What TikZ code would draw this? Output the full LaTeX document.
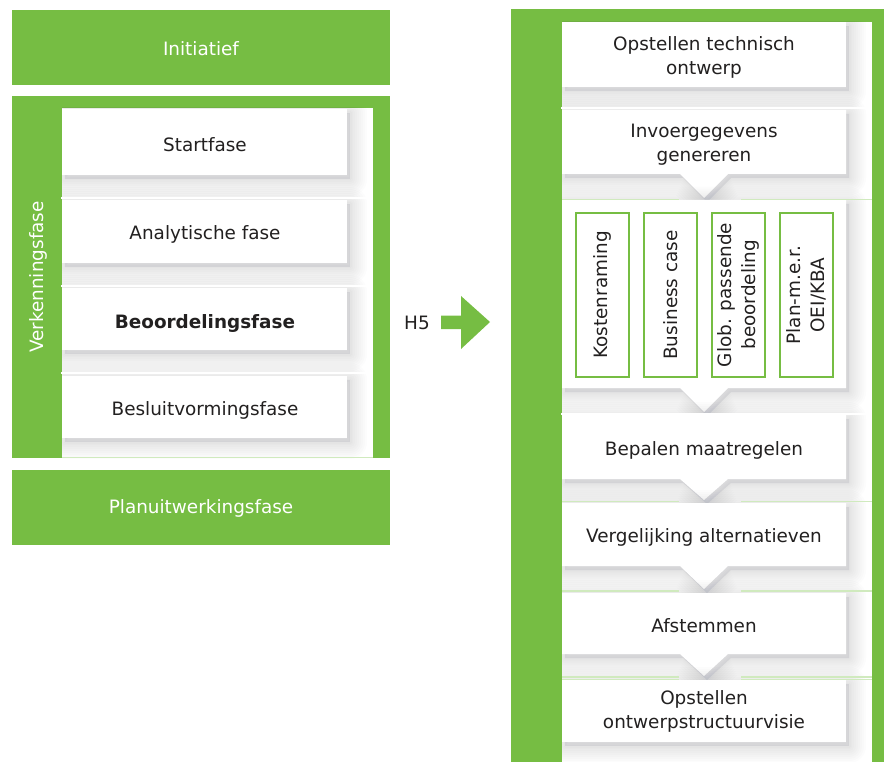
\documentclass[tikz,border=0pt]{standalone}
\usepackage{fontspec}
\setmainfont{DejaVu Sans}
\definecolor{leaf}{RGB}{118,189,67}
\definecolor{sepgreen}{RGB}{208,234,190}
\definecolor{ink}{RGB}{34,32,32}
\definecolor{shade}{RGB}{70,75,90}
\tikzset{
  label/.style={text=ink, align=center, inner sep=0pt,
      font=\fontsize{18.4}{24}\selectfont},
  greenlabel/.style={text=white, align=center, inner sep=0pt,
      font=\fontsize{18.4}{24}\selectfont},
  vbox/.style={draw=leaf, line width=1.2pt, fill=white, rotate=90,
      minimum width=164pt, minimum height=53pt, inner sep=2pt, text=ink,
      align=center, font=\fontsize{18.4}{24}\selectfont},
  whitesep/.style={draw=white, line width=1.2pt},
  greensep/.style={draw=sepgreen, line width=1.2pt}
}
% white card with a soft drop shadow; #1 is the outline of the card
\newcommand\softcard[1]{%
  \path[fill=shade, fill opacity=0.09, xshift=3pt, yshift=-4pt] #1;
  \foreach \w in {34,30,26,22,18,14,10,6,3}{%
    \path[draw=shade, draw opacity=0.014, line width=\w pt, line join=round,
          xshift=3pt, yshift=-4pt] #1;}%
  \path[fill=white] #1;}
\begin{document}
\begin{tikzpicture}[x=1pt, y=-1pt]
\useasboundingbox (0,0) rectangle (884,762);

% ---------- left column ----------
\fill[leaf] (12,10) rectangle (390,85);
\node[greenlabel] (init) at (201,48.5) {Initiatief};

\fill[leaf] (12,96) rectangle (390,458);
\fill[white] (62,108) rectangle (373,458);
\node[greenlabel, rotate=90] (verk) at (38,277) {Verkenningsfase};

\begin{scope}
  \clip (62,108) rectangle (373,458);
  \softcard{(62,109) rectangle (347,175)}
  \softcard{(62,200) rectangle (347,263)}
  \softcard{(62,288) rectangle (347,350)}
  \softcard{(62,376) rectangle (347,438)}
\end{scope}
\draw[whitesep] (61,198) -- (373,198);
\draw[whitesep] (61,286) -- (373,286);
\draw[whitesep] (61,373) -- (373,373);
\draw[sepgreen, line width=0.8pt] (62,457.6) -- (373,457.6);

\node[label] (start) at (205,145) {Startfase};
\node[label] (anal) at (205,234) {Analytische fase};
\node[label, font=\fontsize{18.4}{24}\selectfont\bfseries] (beoor) at (205,323) {Beoordelingsfase};
\node[label] (besl) at (205,410) {Besluitvormingsfase};

\fill[leaf] (12,470) rectangle (390,545);
\node[greenlabel] (plan) at (201,508.5) {Planuitwerkingsfase};

% ---------- H5 arrow ----------
\node[label] (h5) at (417,323) {H5};
\fill[leaf] (441,315.5) -- (461,315.5) -- (461,296) -- (490,322)
  -- (461,349) -- (461,329) -- (441,329) -- cycle;

% ---------- right column ----------
\fill[leaf] (511,9) rectangle (884,762);
\fill[white] (562,22) rectangle (872,762);

% cards with their downward notches
\begin{scope}
  \clip (562,22) rectangle (872,762);
  \softcard{(562,22) rectangle (846,87)}
  \softcard{(562,110) -- (846,110) -- (846,174) -- (728,174) -- (704,198)
    -- (680,174) -- (562,174) -- cycle}
  \softcard{(562,200) -- (846,200) -- (846,388) -- (728,388) -- (704,412)
    -- (680,388) -- (562,388) -- cycle}
  \softcard{(562,415) -- (846,415) -- (846,479) -- (728,479) -- (704,500)
    -- (680,479) -- (562,479) -- cycle}
  \softcard{(562,503) -- (846,503) -- (846,566) -- (728,566) -- (704,589)
    -- (680,566) -- (562,566) -- cycle}
  \softcard{(562,593) -- (846,593) -- (846,654) -- (728,654) -- (704,676)
    -- (680,654) -- (562,654) -- cycle}
  \softcard{(562,680) rectangle (846,742)}
\end{scope}

% section separators
\draw[whitesep] (561,108) -- (872,108);
\draw[greensep] (562,199.5) -- (679,199.5) (741,199.5) -- (872,199.5);
\draw[whitesep] (561,414) -- (872,414);
\draw[greensep] (562,501.5) -- (679,501.5) (741,501.5) -- (872,501.5);
\draw[greensep] (562,591) -- (679,591) (741,591) -- (872,591);
\draw[greensep] (562,677) -- (679,677) (741,677) -- (872,677);
\draw[greensep] (562,679.5) -- (679,679.5) (741,679.5) -- (872,679.5);

\node[label] (tech) at (704,57) {Opstellen technisch\\ontwerp};
\node[label] (invoer) at (704,145) {Invoergegevens\\genereren};
\node[vbox] (kost) at (602.5,295) {Kostenraming};
\node[vbox] (bus) at (670.5,295) {Business case};
\node[vbox] (glob) at (738.5,295) {Glob. passende\\beoordeling};
\node[vbox] (mer) at (806.5,295) {Plan-m.e.r.\\OEI/KBA};
\node[label] (maatr) at (704,450) {Bepalen maatregelen};
\node[label] (verg) at (704,537) {Vergelijking alternatieven};
\node[label] (afst) at (704,625.5) {Afstemmen};
\node[label] (visie) at (704,711) {Opstellen\\ontwerpstructuurvisie};
\end{tikzpicture}
\end{document}
